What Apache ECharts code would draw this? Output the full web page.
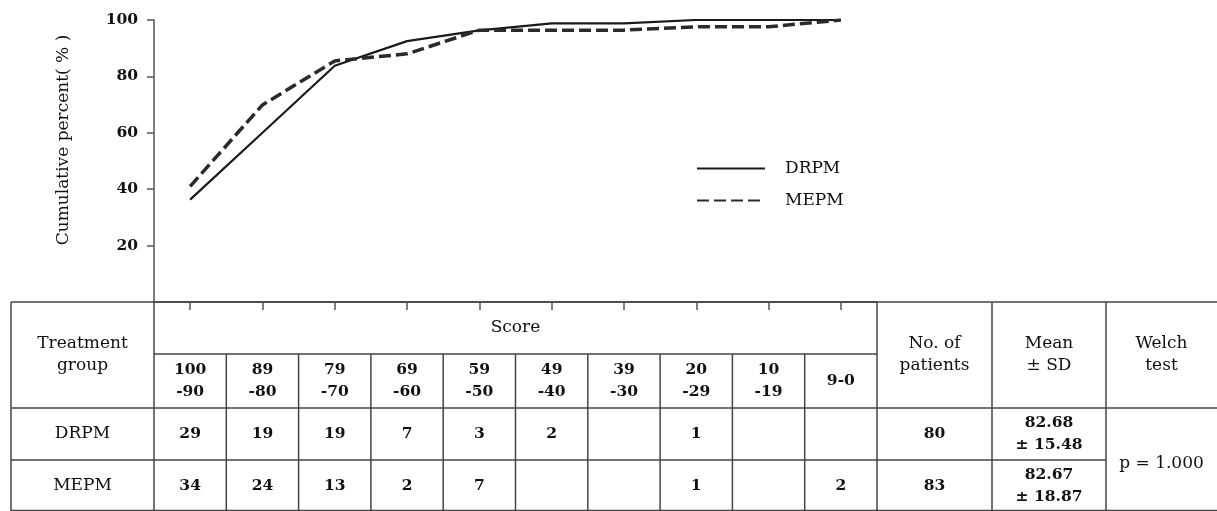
<!DOCTYPE html>
<html><head><meta charset="utf-8">
<script src="https://cdn.jsdelivr.net/npm/echarts@6/dist/echarts.min.js"></script>
<style>html,body{margin:0;padding:0;background:#fff}#c{width:1217px;height:511px}</style>
</head><body><div id="c"></div>
<script>
// ---- data ----
const categories = ['100\n-90','89\n-80','79\n-70','69\n-60','59\n-50','49\n-40','39\n-30','20\n-29','10\n-19','9-0'];
const drpmCumulative = [36.3, 60, 83.8, 92.5, 96.3, 98.8, 98.8, 100, 100, 100];
const mepmCumulative = [41, 69.9, 85.5, 88, 96.4, 96.4, 96.4, 97.6, 97.6, 100];
const drpmCounts = ['29','19','19','7','3','2','','1','',''];
const mepmCounts = ['34','24','13','2','7','','','1','','2'];
const groups = ['DRPM','MEPM'];
const patients = ['80','83'];
const meanSD = ['82.68\n± 15.48','82.67\n± 18.87'];
const welchText = 'p = 1.000';
const headers = { group: 'Treatment\ngroup', score: 'Score', patients: 'No. of\npatients', mean: 'Mean\n± SD', welch: 'Welch\ntest' };
const yAxisTitle = 'Cumulative percent( % )';

const SERIF = '"DejaVu Serif", "Liberation Serif", serif';
const INK = '#111';
const chart = echarts.init(document.getElementById('c'), null, { renderer: 'canvas' });

chart.setOption({
  animation: false,
  backgroundColor: '#fff',
  grid: { left: 154, right: 340, top: 20, bottom: 209, containLabel: false },
  legend: {
    orient: 'vertical', left: 691, top: 155, itemWidth: 68, itemHeight: 16, itemGap: 15,
    itemStyle: { opacity: 0 },
    textStyle: { fontFamily: SERIF, fontSize: 17, color: INK, padding: [3, 0, 0, 15] },
    data: groups
  },
  xAxis: {
    type: 'category', data: categories, boundaryGap: true,
    axisLine: { show: true, lineStyle: { color: '#444', width: 1.5 } },
    axisTick: { show: true, alignWithLabel: true, inside: false, length: 8, lineStyle: { color: '#555', width: 1.5 } },
    axisLabel: { show: false }, splitLine: { show: false }
  },
  yAxis: {
    type: 'value', min: 0, max: 100, interval: 20,
    name: yAxisTitle, nameLocation: 'middle', nameRotate: 90, nameGap: 82,
    nameTextStyle: { fontFamily: SERIF, fontSize: 17, color: INK, padding: [0, 0, 0, 42] },
    axisLine: { show: true, lineStyle: { color: '#555', width: 1.5 } },
    axisTick: { show: true, length: 7, lineStyle: { color: '#555', width: 1.5 } },
    axisLabel: { showMinLabel: false, margin: 16, fontFamily: SERIF, fontWeight: 'bold', fontSize: 15.5, color: INK },
    splitLine: { show: false }
  },
  series: [
    { name: groups[0], type: 'line', data: drpmCumulative, showSymbol: false, symbol: 'none',
      lineStyle: { color: '#1a1a1a', width: 2.2, type: 'solid' }, itemStyle: { color: '#1a1a1a' } },
    { name: groups[1], type: 'line', data: mepmCumulative, showSymbol: false, symbol: 'none',
      lineStyle: { color: '#2a2a2a', width: 3.5, type: [12, 5] }, itemStyle: { color: '#2a2a2a' } }
  ]
});

// ---- table drawn under the axis, columns aligned to category bands ----
const cx = i => chart.convertToPixel({ xAxisIndex: 0 }, i);
const yTop = chart.convertToPixel({ yAxisIndex: 0 }, 0);
const band = cx(1) - cx(0);
const xScoreL = cx(0) - band / 2, xScoreR = cx(categories.length - 1) + band / 2;
const xLeft = 11, xRight = 1217, xMean = xScoreR + 115, xWelch = xScoreR + 229;
const yScoreHdr = yTop + 52, yLabels = yTop + 106, yMid = yTop + 158, yBot = 511;
const stroke = { stroke: '#444', lineWidth: 1.5 };
const els = [];
const L = (x1, y1, x2, y2) => els.push({ type: 'line', silent: true, shape: { x1, y1, x2, y2 }, style: stroke });
const T = (text, x, y, bold) => els.push({ type: 'text', silent: true, style: {
  text, x, y, align: 'center', verticalAlign: 'middle', fill: INK, lineHeight: 22,
  fontFamily: SERIF, fontSize: bold ? 15.5 : 17, fontWeight: bold ? 'bold' : 'normal' } });

// horizontal rules
L(xLeft, yTop, xRight, yTop);
L(xScoreL, yScoreHdr, xScoreR, yScoreHdr);
L(xLeft, yLabels, xRight, yLabels);
L(xLeft, yMid, xWelch, yMid);
L(xLeft, yBot - 0.5, xRight, yBot - 0.5);
// vertical rules
L(xLeft, yTop, xLeft, yBot);
L(xScoreL, yTop, xScoreL, yBot);
for (let i = 1; i < categories.length; i++) L(cx(i) - band / 2, yScoreHdr, cx(i) - band / 2, yBot);
L(xScoreR, yTop, xScoreR, yBot);
L(xMean, yTop, xMean, yBot);
L(xWelch, yTop, xWelch, yBot);

// header text
const hdrY = (yTop + yLabels) / 2;
T(headers.group, (xLeft + xScoreL) / 2, hdrY, false);
T(headers.score, (xScoreL + xScoreR) / 2, (yTop + yScoreHdr) / 2, false);
T(headers.patients, (xScoreR + xMean) / 2, hdrY, false);
T(headers.mean, (xMean + xWelch) / 2, hdrY, false);
T(headers.welch, (xWelch + xRight) / 2, hdrY, false);
// score band labels and counts
const rowY = [(yLabels + yMid) / 2, (yMid + yBot) / 2];
categories.forEach((c, i) => {
  T(c, cx(i), (yScoreHdr + yLabels) / 2, true);
  if (drpmCounts[i]) T(drpmCounts[i], cx(i), rowY[0], true);
  if (mepmCounts[i]) T(mepmCounts[i], cx(i), rowY[1], true);
});
groups.forEach((g, r) => {
  T(g, (xLeft + xScoreL) / 2, rowY[r], false);
  T(patients[r], (xScoreR + xMean) / 2, rowY[r], true);
  T(meanSD[r], (xMean + xWelch) / 2, rowY[r], true);
});
T(welchText, (xWelch + xRight) / 2, (yLabels + yBot) / 2 + 4, false);

chart.setOption({ graphic: { elements: els } });
</script></body></html>
